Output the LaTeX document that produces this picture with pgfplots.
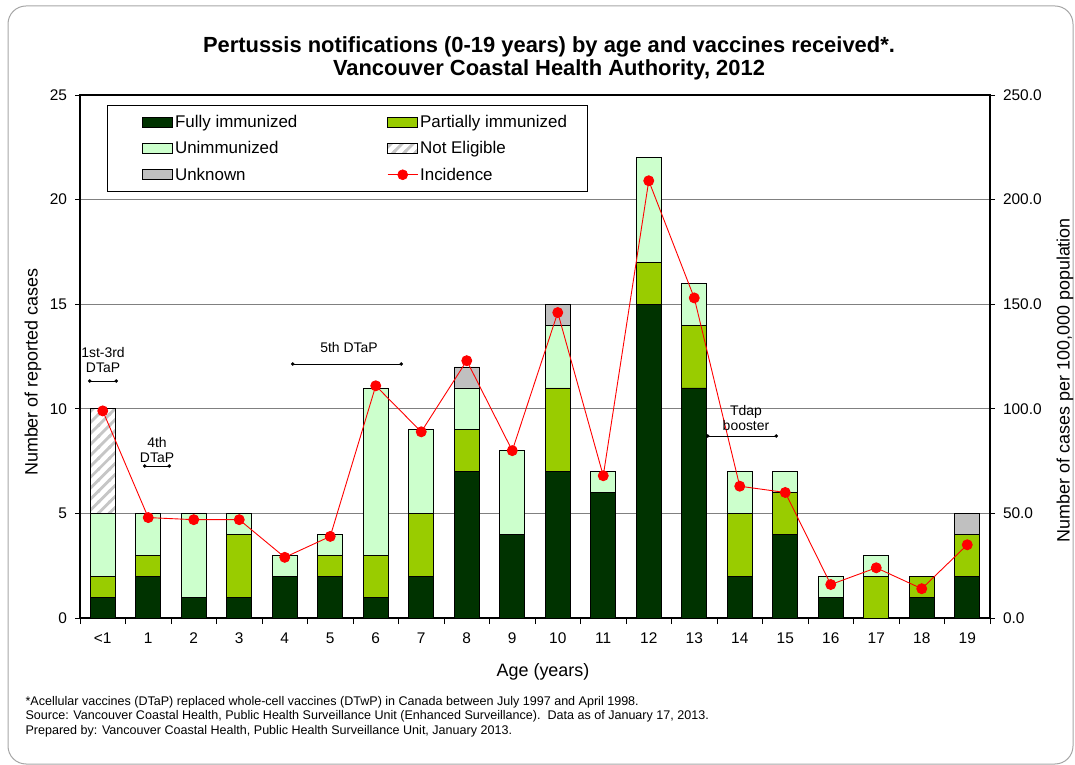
\documentclass[border=0pt]{standalone}
\usepackage{fontspec}
\setmainfont{Liberation Sans}
\usepackage{pgfplots}
\usepackage{pgfplotstable}
\pgfplotsset{compat=1.18}
\usetikzlibrary{patterns,arrows.meta}

\definecolor{cfully}{HTML}{003300}
\definecolor{cpartial}{HTML}{99CC00}
\definecolor{cunimm}{HTML}{CCFFCC}
\definecolor{cunknown}{HTML}{C0C0C0}

% thick diagonal stripes for "Not Eligible"
\pgfdeclarepatternformonly{thickstripes}{\pgfqpoint{-1pt}{-1pt}}{\pgfqpoint{12pt}{12pt}}{\pgfqpoint{11pt}{11pt}}{
  \pgfsetlinewidth{2.8pt}
  \pgfpathmoveto{\pgfqpoint{-1pt}{-1pt}}\pgfpathlineto{\pgfqpoint{12pt}{12pt}}
  \pgfpathmoveto{\pgfqpoint{-1pt}{10pt}}\pgfpathlineto{\pgfqpoint{1pt}{12pt}}
  \pgfpathmoveto{\pgfqpoint{10pt}{-1pt}}\pgfpathlineto{\pgfqpoint{12pt}{1pt}}
  \pgfusepath{stroke}}

% cases by age and immunization status
\pgfplotstableread{
x fully partial unimm notelig unknown
0 1 1 3 5 0
1 2 1 2 0 0
2 1 0 4 0 0
3 1 3 1 0 0
4 2 0 1 0 0
5 2 1 1 0 0
6 1 2 8 0 0
7 2 3 4 0 0
8 7 2 2 0 1
9 4 0 4 0 0
10 7 4 3 0 1
11 6 0 1 0 0
12 15 2 5 0 0
13 11 3 2 0 0
14 2 3 2 0 0
15 4 2 1 0 0
16 1 0 1 0 0
17 0 2 1 0 0
18 1 1 0 0 0
19 2 2 0 0 1
}\casedata

% incidence per 100,000
\pgfplotstableread{
x inc
0 99
1 48
2 47
3 47
4 29
5 39
6 111
7 89
8 123
9 80
10 146
11 68
12 209
13 153
14 63
15 60
16 16
17 24
18 14
19 35
}\incdata

\begin{document}
\begin{tikzpicture}
\path[use as bounding box] (0,0) rectangle (1075bp,765bp);
\draw[gray!70, line width=1bp, rounded corners=18bp] (8bp,1bp) rectangle (1073bp,759bp);

\node[font=\bfseries\fontsize{22}{23}\selectfont, align=center] at (549bp,706.5bp)
  {Pertussis notifications (0-19 years) by age and vaccines received*.\\Vancouver Coastal Health Authority, 2012};

\begin{axis}[
  at={(80bp,147bp)}, anchor=south west,
  scale only axis, width=910bp, height=523bp,
  ybar stacked, bar width=25bp,
  xmin=-0.5, xmax=19.5, ymin=0, ymax=25,
  xtick={0,...,19},
  xticklabels={<1,1,2,3,4,5,6,7,8,9,10,11,12,13,14,15,16,17,18,19},
  major x tick style={draw=none},
  minor xtick={-0.5,0.5,...,19.5},
  minor tick length=6bp,
  xtick align=outside, xtick pos=bottom,
  ytick={0,5,...,25}, yticklabels={0,5,10,15,20,25},
  ytick align=outside, ytick pos=left,
  major tick length=5bp,
  ymajorgrids, grid style={gray, line width=0.9bp},
  axis line style={black, line width=1.2bp},
  tick style={black, line width=0.8bp},
  tick label style={font=\fontsize{15.5}{17}\selectfont},
  xticklabel style={yshift=-6bp},
  yticklabel style={xshift=-4.5bp},
  xlabel={Age (years)},
  ylabel={Number of reported cases},
  label style={font=\fontsize{18}{21}\selectfont},
  xlabel style={at={(axis description cs:0.5088,-0.1033)}, anchor=center},
  ylabel style={at={(axis description cs:-0.0516,0.47)}, anchor=center},
  legend style={at={(axis description cs:0.0297,0.981)}, anchor=north west,
    draw=black, line width=0.9bp, inner xsep=18bp, inner ysep=8bp,
    font=\fontsize{17}{20}\selectfont, row sep=8.5bp,
    /tikz/every even column/.append style={column sep=71bp}},
  legend columns=2, legend cell align=left,
  every axis plot/.append style={draw=black, line width=0.6bp},
  legend image code/.code={\path (-17bp,0bp); \draw[#1] (0bp,-5bp) rectangle (30bp,5bp);},
]
\addplot[fill=cfully] table[x=x,y=fully]{\casedata};
\addlegendentry{Fully immunized}
\addplot[fill=cpartial] table[x=x,y=partial]{\casedata};
\addlegendentry{Partially immunized}
\addplot[fill=cunimm] table[x=x,y=unimm]{\casedata};
\addlegendentry{Unimmunized}
\addplot[pattern=thickstripes, pattern color=gray!45] table[x=x,y=notelig]{\casedata};
\addlegendentry{Not Eligible}
\addplot[fill=cunknown] table[x=x,y=unknown]{\casedata};
\addlegendentry{Unknown}
\addlegendimage{legend image code/.code={\path (-17bp,0bp);
    \draw[red, line width=0.9bp] (0bp,0bp) -- (30bp,0bp);
    \fill[red] (15bp,0bp) circle[radius=5bp];}}
\addlegendentry{Incidence}
\end{axis}

\begin{axis}[
  at={(80bp,147bp)}, anchor=south west,
  scale only axis, width=910bp, height=523bp,
  xmin=-0.5, xmax=19.5, ymin=0, ymax=250,
  axis x line=none, axis y line*=right,
  ytick={0,50,...,250}, yticklabels={0.0,50.0,100.0,150.0,200.0,250.0},
  ytick align=outside,
  major tick length=5bp,
  axis line style={black, line width=1.2bp},
  tick style={black, line width=0.8bp},
  tick label style={font=\fontsize{15.5}{17}\selectfont},
  yticklabel style={xshift=4.5bp},
  ylabel={Number of cases per 100,000 population},
  label style={font=\fontsize{18}{21}\selectfont},
  ylabel style={at={(axis description cs:1.0824,0.455)}, anchor=center},
]
\addplot[red, line width=0.9bp, mark=*, mark size=5bp, mark options={fill=red}] table[x=x,y=inc]{\incdata};
\end{axis}

% vaccination schedule annotations (x = 80 + 45.5*(age+0.5), y = 147 + 20.92*cases)
\begin{scope}[font=\fontsize{14}{16}\selectfont, line width=0.8bp]
\node[align=center] at (103bp,405bp) {1st-3rd\\DTaP};
\draw[{Circle[length=3.5bp]}-{Circle[length=3.5bp]}] (88bp,384bp) -- (118bp,384bp);
\node[align=center] at (157bp,315bp) {4th\\DTaP};
\draw[{Circle[length=3.5bp]}-{Circle[length=3.5bp]}] (143bp,299bp) -- (171bp,299bp);
\node at (349bp,417bp) {5th DTaP};
\draw[{Circle[length=3.5bp]}-{Circle[length=3.5bp]}] (291bp,401bp) -- (403bp,401bp);
\node[align=center] at (746bp,347bp) {Tdap\\booster};
\draw[{Circle[length=3.5bp]}-{Circle[length=3.5bp]}] (706bp,329bp) -- (778bp,329bp);
\end{scope}

\node[anchor=base west, font=\fontsize{12.6}{14}\selectfont] at (22bp,59bp)
  {*Acellular vaccines (DTaP) replaced whole-cell vaccines (DTwP) in Canada between July 1997 and April 1998.};
\node[anchor=base west, font=\fontsize{12.6}{14}\selectfont] at (22bp,45bp)
  {Source: Vancouver Coastal Health, Public Health Surveillance Unit (Enhanced Surveillance).\ \ Data as of January 17, 2013.};
\node[anchor=base west, font=\fontsize{12.6}{14}\selectfont] at (22bp,31bp)
  {Prepared by: Vancouver Coastal Health, Public Health Surveillance Unit, January 2013.};
\end{tikzpicture}
\end{document}
